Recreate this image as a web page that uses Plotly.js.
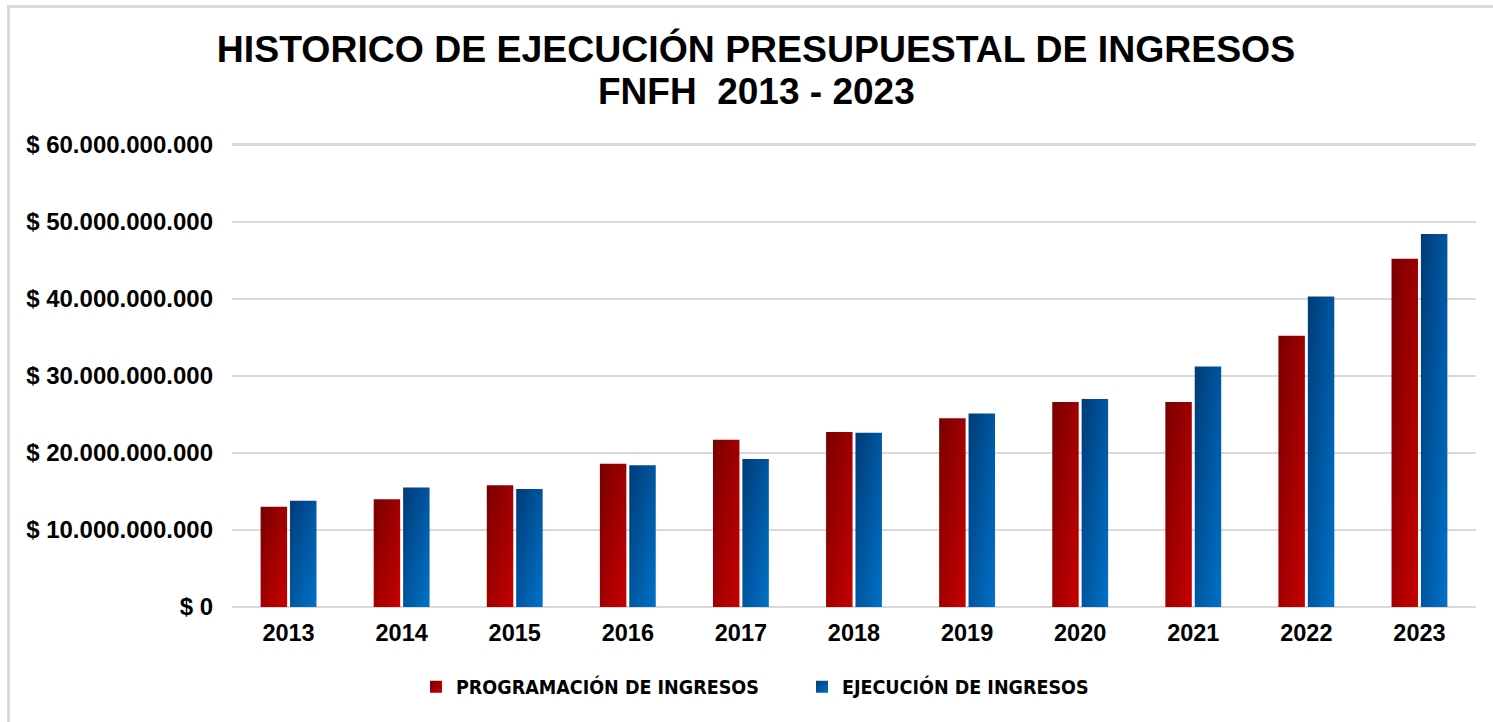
<!DOCTYPE html>
<html>
<head>
<meta charset="utf-8">
<script src="https://cdn.plot.ly/plotly-3.0.1.min.js"></script>
<style>
  html, body { margin: 0; padding: 0; background: #fff; }
  #wrap { position: relative; width: 1493px; height: 722px; }
  #chart { width: 1493px; height: 722px; }
  #frame { position: absolute; left: 7px; top: 5px; width: 1500px; height: 730px;
           border-left: 3px solid #d9d9d9; border-top: 3px solid #d9d9d9; pointer-events: none; }
</style>
</head>
<body>
<div id="wrap">
  <div id="chart"></div>
  <div id="frame"></div>
</div>
<script>
const years = ["2013","2014","2015","2016","2017","2018","2019","2020","2021","2022","2023"];
const programacion = [13.0e9, 14.0e9, 15.8e9, 18.6e9, 21.7e9, 22.7e9, 24.5e9, 26.6e9, 26.6e9, 35.2e9, 45.2e9];
const ejecucion    = [13.8e9, 15.5e9, 15.3e9, 18.4e9, 19.2e9, 22.6e9, 25.1e9, 27.0e9, 31.2e9, 40.3e9, 48.4e9];
const seriesNames = ["PROGRAMACIÓN DE INGRESOS", "EJECUCIÓN DE INGRESOS"];
const titleLine1 = "HISTORICO DE EJECUCIÓN PRESUPUESTAL DE INGRESOS";
const titleLine2 = "FNFH&nbsp;&nbsp;2013 - 2023";

const traces = [
  { type: "bar", name: seriesNames[0], x: years, y: programacion, marker: { color: "#a40000" } },
  { type: "bar", name: seriesNames[1], x: years, y: ejecucion, marker: { color: "#0058a8" } }
];

const layout = {
  width: 1493, height: 722,
  margin: { l: 232, r: 17, t: 137, b: 115 },
  paper_bgcolor: "#ffffff", plot_bgcolor: "#ffffff",
  separators: ",.",
  barmode: "group", bargap: 0.48, bargroupgap: 0.1,
  font: { family: "Liberation Sans, Arial, sans-serif", color: "#000" },
  title: {
    text: "<b>" + titleLine1 + "</b>",
    font: { size: 37.4, family: "Liberation Sans, Arial, sans-serif", color: "#000" },
    xref: "container", x: 756 / 1493, xanchor: "center",
    yref: "container", y: 1 - 49 / 722, yanchor: "middle"
  },
  annotations: [{
    text: "<b>" + titleLine2 + "</b>",
    xref: "paper", yref: "paper",
    x: (756 - 232) / 1244, y: (607 - 91.5) / 470,
    xanchor: "center", yanchor: "middle", showarrow: false,
    font: { size: 37, family: "Liberation Sans, Arial, sans-serif", color: "#000" }
  }],
  xaxis: {
    type: "category",
    tickfont: { size: 23.5, family: "Liberation Sans, Arial, sans-serif", color: "#000", weight: "bold" },
    ticks: "", showline: false, showgrid: false, zeroline: false,
    ticklabelstandoff: 9
  },
  yaxis: {
    range: [0, 61e9], tick0: 0, dtick: 10e9,
    tickprefix: "$ ", tickformat: ",.0f",
    tickfont: { size: 24, family: "Liberation Sans, Arial, sans-serif", color: "#000", weight: "bold" },
    showgrid: true, gridcolor: "#d9d9d9", gridwidth: 2.5,
    zeroline: true, zerolinecolor: "#d9d9d9", zerolinewidth: 2.5,
    ticks: "", showline: false, ticklabelstandoff: 18
  },
  legend: {
    orientation: "h", xref: "container", yref: "container",
    x: 416 / 1493, xanchor: "left", y: 1 - 687 / 722, yanchor: "middle",
    font: { size: 19.5, family: "DejaVu Sans Condensed, Liberation Sans Narrow, Arial Narrow, sans-serif", color: "#000", weight: "bold" },
    itemwidth: 30, tracegroupgap: 0, entrywidth: 341, entrywidthmode: "pixels"
  },
  showlegend: true
};

function applyGradients(gd) {
  const svg = gd.querySelector("svg.main-svg");
  if (!svg) return;
  const ns = "http://www.w3.org/2000/svg";
  let defs = svg.querySelector("defs");
  if (!defs) { defs = document.createElementNS(ns, "defs"); svg.insertBefore(defs, svg.firstChild); }
  const grads = [
    { id: "gradRed", c1: "#780000", c2: "#c80000" },
    { id: "gradBlue", c1: "#003b78", c2: "#0072c8" }
  ];
  grads.forEach(g => {
    if (defs.querySelector("#" + g.id)) return;
    const lg = document.createElementNS(ns, "linearGradient");
    lg.setAttribute("id", g.id);
    lg.setAttribute("x1", "0"); lg.setAttribute("y1", "0");
    lg.setAttribute("x2", "1"); lg.setAttribute("y2", "1");
    const s1 = document.createElementNS(ns, "stop");
    s1.setAttribute("offset", "0"); s1.setAttribute("stop-color", g.c1);
    const s2 = document.createElementNS(ns, "stop");
    s2.setAttribute("offset", "1"); s2.setAttribute("stop-color", g.c2);
    lg.appendChild(s1); lg.appendChild(s2);
    defs.appendChild(lg);
  });
  gd.querySelectorAll("g.trace.bars").forEach((t, i) => {
    const id = i === 0 ? "gradRed" : "gradBlue";
    t.querySelectorAll("path").forEach(p => { p.style.fill = "url(#" + id + ")"; });
  });
  gd.querySelectorAll("g.legend g.traces").forEach((t, i) => {
    const id = i === 0 ? "gradRed" : "gradBlue";
    t.querySelectorAll("g.legendpoints path").forEach(p => { p.style.fill = "url(#" + id + ")"; });
  });
}

Plotly.newPlot("chart", traces, layout, { displayModeBar: false, staticPlot: true }).then(gd => {
  applyGradients(gd);
});
</script>
</body>
</html>
